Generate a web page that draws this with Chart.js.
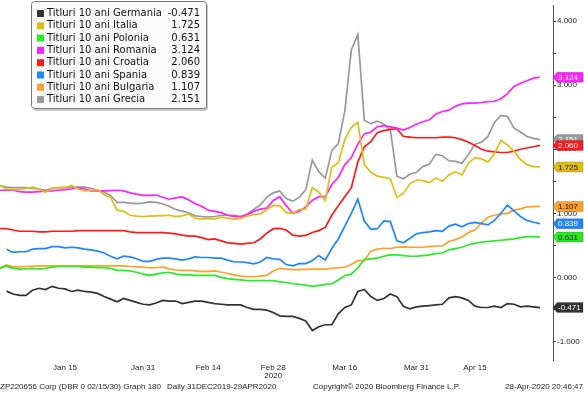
<!DOCTYPE html>
<html>
<head>
<meta charset="utf-8">
<script src="https://cdn.jsdelivr.net/npm/chart.js@4"></script>
<style>
  body { margin: 0; background: #fff; }
  canvas { display: block; }
</style>
</head>
<body>
<canvas id="chart" width="584" height="393"></canvas>
<script>
/* business days 31 Dec 2019 - 29 Apr 2020 (Jan 1, Apr 10, Apr 13 closed) */
var dates = [
  'Dec 31', 'Jan 2', 'Jan 3', 'Jan 6', 'Jan 7', 'Jan 8', 'Jan 9', 'Jan 10', 'Jan 13', 'Jan 14',
  'Jan 15', 'Jan 16', 'Jan 17', 'Jan 20', 'Jan 21', 'Jan 22', 'Jan 23', 'Jan 24', 'Jan 27', 'Jan 28',
  'Jan 29', 'Jan 30', 'Jan 31', 'Feb 3', 'Feb 4', 'Feb 5', 'Feb 6', 'Feb 7', 'Feb 10', 'Feb 11',
  'Feb 12', 'Feb 13', 'Feb 14', 'Feb 17', 'Feb 18', 'Feb 19', 'Feb 20', 'Feb 21', 'Feb 24', 'Feb 25',
  'Feb 26', 'Feb 27', 'Feb 28', 'Mar 2', 'Mar 3', 'Mar 4', 'Mar 5', 'Mar 6', 'Mar 9', 'Mar 10',
  'Mar 11', 'Mar 12', 'Mar 13', 'Mar 16', 'Mar 17', 'Mar 18', 'Mar 19', 'Mar 20', 'Mar 23', 'Mar 24',
  'Mar 25', 'Mar 26', 'Mar 27', 'Mar 30', 'Mar 31', 'Apr 1', 'Apr 2', 'Apr 3', 'Apr 6', 'Apr 7',
  'Apr 8', 'Apr 9', 'Apr 14', 'Apr 15', 'Apr 16', 'Apr 17', 'Apr 20', 'Apr 21', 'Apr 22', 'Apr 23',
  'Apr 24', 'Apr 27', 'Apr 28', 'Apr 29'
];
/* two empty slots after the last day, the gap before the axis */
var padSlots = ['', ''];

var tickDates = ['Jan 15', 'Jan 31', 'Feb 14', 'Feb 28', 'Mar 16', 'Mar 31', 'Apr 15'];
var tickTexts = ['Jan 15', 'Jan 31', 'Feb 14', ['Feb 28', '2020'], 'Mar 16', 'Mar 31', 'Apr 15'];
var yTicks = [-1, -0.5, 0, 0.5, 1, 1.5, 2, 2.5, 3, 3.5, 4];

var germania = [
  null, -0.215, -0.26, -0.28, -0.28, -0.2, -0.17, -0.19, -0.14, -0.17,
  -0.18, -0.22, -0.2, -0.22, -0.23, -0.25, -0.3, -0.34, -0.38, -0.33,
  -0.36, -0.39, -0.42, -0.43, -0.4, -0.36, -0.37, -0.37, -0.41, -0.39,
  -0.37, -0.37, -0.39, -0.41, -0.42, -0.43, -0.43, -0.43, -0.47, -0.5,
  -0.5, -0.51, -0.55, -0.6, -0.61, -0.61, -0.64, -0.68, -0.83, -0.77,
  -0.74, -0.74, -0.57, -0.47, -0.43, -0.22, -0.19, -0.3, -0.36, -0.33,
  -0.26, -0.3, -0.45, -0.49, -0.46, -0.45, -0.44, -0.43, -0.42, -0.32,
  -0.3, -0.32, -0.36, -0.45, -0.47, -0.47, -0.45, -0.47, -0.41, -0.42,
  -0.46, -0.45, -0.46, -0.471
];
var italia = [
  1.435, 1.38, 1.37, 1.37, 1.39, 1.41, 1.38, 1.33, 1.39, 1.40,
  1.40, 1.435, 1.38, 1.35, 1.36, 1.37, 1.29, 1.25, 1.05, 1.03,
  0.97, 0.955, 0.95, 0.955, 0.96, 0.965, 0.97, 0.95, 0.96, 0.99,
  0.92, 0.91, 0.92, 0.91, 0.94, 0.925, 0.91, 0.92, 0.96, 0.98,
  0.99, 1.06, 1.12, 1.12, 1.01, 1.0, 1.06, 1.07, 1.40, 1.33,
  1.2, 1.72, 1.79, 2.15, 2.34, 2.42, 1.76, 1.64, 1.58, 1.56,
  1.54, 1.25, 1.31, 1.46, 1.52, 1.51, 1.48, 1.55, 1.5, 1.6,
  1.65, 1.6, 1.78, 1.87, 1.85, 1.8, 1.93, 2.14, 2.07, 1.97,
  1.84, 1.76, 1.73, 1.725
];
var polonia = [
  0.14, 0.18, 0.14, 0.13, 0.135, 0.14, 0.13, 0.14, 0.16, 0.17,
  0.17, 0.17, 0.17, 0.16, 0.16, 0.15, 0.15, 0.14, 0.11, 0.11,
  0.10, 0.08, 0.05, 0.03, 0.05, 0.07, 0.08, 0.05, 0.04, 0.04,
  0.03, 0.03, 0.03, 0.03, 0.0, -0.02, -0.03, -0.04, -0.05, -0.05,
  -0.05, -0.05, -0.05, -0.07, -0.08, -0.1, -0.11, -0.12, -0.14, -0.13,
  -0.11, -0.1, -0.04, 0.03, 0.05, 0.15, 0.28, 0.29, 0.30, 0.33,
  0.35, 0.35, 0.34, 0.33, 0.33, 0.34, 0.35, 0.37, 0.38, 0.43,
  0.45, 0.47, 0.51, 0.53, 0.55, 0.56, 0.57, 0.58, 0.59, 0.6,
  0.62, 0.635, 0.635, 0.631
];
var romania = [
  1.36, 1.36, 1.36, 1.34, 1.33, 1.33, 1.34, 1.345, 1.35, 1.36,
  1.37, 1.38, 1.40, 1.38, 1.35, 1.35, 1.35, 1.355, 1.36, 1.35,
  1.32, 1.30, 1.28, 1.28, 1.285, 1.25, 1.22, 1.24, 1.255, 1.21,
  1.15, 1.11, 1.05, 1.03, 1.01, 0.97, 0.95, 0.95, 0.98, 1.03,
  1.065, 1.08, 1.2, 1.26, 1.12, 1.0, 1.03, 1.1, 1.2, 1.26,
  1.26, 1.45, 1.56, 1.76, 1.87, 2.08, 2.24, 2.27, 2.35, 2.37,
  2.35, 2.33, 2.3, 2.34, 2.39, 2.43, 2.46, 2.55, 2.59, 2.61,
  2.67, 2.71, 2.72, 2.72, 2.73, 2.745, 2.75, 2.79, 2.87, 2.98,
  3.03, 3.07, 3.11, 3.124
];
var croatia = [
  0.76, 0.76, 0.74, 0.72, 0.72, 0.72, 0.71, 0.71, 0.72, 0.72,
  0.72, 0.72, 0.73, 0.73, 0.73, 0.73, 0.73, 0.73, 0.73, 0.73,
  0.71, 0.70, 0.70, 0.70, 0.70, 0.70, 0.69, 0.68, 0.66, 0.645,
  0.645, 0.62, 0.59, 0.60, 0.57, 0.54, 0.53, 0.52, 0.53, 0.54,
  0.6, 0.69, 0.76, 0.765, 0.74, 0.66, 0.645, 0.655, 0.7, 0.73,
  0.78, 0.97, 1.12, 1.26, 1.4, 1.8, 2.04, 2.12, 2.26, 2.29,
  2.31, 2.32, 2.2, 2.19, 2.18, 2.18, 2.18, 2.18, 2.19, 2.19,
  2.18, 2.15, 2.11, 2.06, 2.0, 1.97, 1.96, 1.95, 1.95, 1.97,
  2.0, 2.02, 2.04, 2.06
];
var spania = [
  null, 0.44, 0.39, 0.40, 0.40, 0.44, 0.45, 0.45, 0.48, 0.48,
  0.46, 0.47, 0.46, 0.44, 0.43, 0.41, 0.38, 0.33, 0.29, 0.33,
  0.32, 0.29, 0.25, 0.25, 0.28, 0.30, 0.30, 0.29, 0.27, 0.29,
  0.32, 0.31, 0.31, 0.30, 0.30, 0.27, 0.24, 0.24, 0.23, 0.21,
  0.24, 0.31, 0.29, 0.28, 0.2, 0.18, 0.215, 0.215, 0.26, 0.34,
  0.27, 0.45, 0.6, 0.8, 1.0, 1.22, 0.88, 0.75, 0.76, 0.88,
  0.87, 0.57, 0.54, 0.61, 0.68, 0.70, 0.71, 0.73, 0.72, 0.80,
  0.83, 0.79, 0.84, 0.86, 0.84, 0.82, 0.89, 1.0, 1.13, 1.04,
  0.95, 0.89, 0.86, 0.839
];
var bulgaria = [
  0.15, 0.195, 0.165, 0.165, 0.17, 0.175, 0.18, 0.18, 0.18, 0.18,
  0.18, 0.18, 0.18, 0.18, 0.18, 0.18, 0.18, 0.18, 0.18, 0.18,
  0.17, 0.165, 0.16, 0.15, 0.15, 0.165, 0.13, 0.115, 0.11, 0.11,
  0.1, 0.09, 0.095, 0.1, 0.08, 0.06, 0.04, 0.02, 0.01, 0.01,
  0.02, 0.03, 0.1, 0.14, 0.13, 0.12, 0.12, 0.125, 0.13, 0.13,
  0.13, 0.14, 0.15, 0.16, 0.2, 0.26, 0.26, 0.41, 0.44, 0.455,
  0.45, 0.47, 0.475, 0.47, 0.47, 0.47, 0.48, 0.49, 0.49, 0.56,
  0.59, 0.63, 0.7, 0.74, 0.85, 0.94, 0.97, 0.99, 1.0, 1.05,
  1.07, 1.1, 1.105, 1.107
];
var grecia = [
  1.435, 1.41, 1.40, 1.40, 1.40, 1.39, 1.38, 1.36, 1.39, 1.40,
  1.40, 1.41, 1.41, 1.41, 1.39, 1.36, 1.33, 1.28, 1.17, 1.17,
  1.16, 1.15, 1.16, 1.18, 1.17, 1.15, 1.11, 1.06, 1.035, 1.01,
  0.96, 0.95, 0.94, 0.95, 0.97, 0.97, 0.97, 0.95, 0.99, 1.06,
  1.13, 1.25, 1.32, 1.35, 1.23, 1.19, 1.25, 1.37, 1.83, 1.65,
  1.55, 1.98, 2.09, 2.6, 3.55, 3.79, 2.45, 2.40, 2.44, 2.39,
  2.3, 1.58, 1.54, 1.61, 1.64, 1.73, 1.77, 1.92, 1.9, 1.82,
  1.81, 1.78, 1.92, 2.08, 2.11, 2.2, 2.42, 2.53, 2.51, 2.33,
  2.27, 2.2, 2.17, 2.151
];

var names = ['Titluri 10 ani Germania', 'Titluri 10 ani Italia', 'Titluri 10 ani Polonia',
  'Titluri 10 ani Romania', 'Titluri 10 ani Croatia', 'Titluri 10 ani Spania',
  'Titluri 10 ani Bulgaria', 'Titluri 10 ani Grecia'];
var series = [germania, italia, polonia, romania, croatia, spania, bulgaria, grecia];
var colors = ['#333333', '#e0be14', '#22ee22', '#ff22ff', '#ff1a1a', '#1f86ff', '#ffa02a', '#999999'];
var tagTextColors = ['#ffffff', '#111111', '#111111', '#ffffff', '#ffffff', '#ffffff', '#111111', '#ffffff'];

var datasets = [];
for (var i = 0; i < series.length; i++) {
  datasets.push({
    label: names[i],
    data: series[i],
    borderColor: colors[i],
    backgroundColor: colors[i],
    borderWidth: 1.7,
    pointRadius: 0,
    tension: 0,
    fill: false
  });
}

function lastValue(arr) {
  return arr[arr.length - 1];
}

/* legend box, top left */
var legendBox = {
  id: 'legendBox',
  afterDraw: function (chart) {
    var c = chart.ctx;
    c.save();
    c.fillStyle = '#c8c8c8';
    c.beginPath();
    c.roundRect(33, 3, 175, 108, 3);
    c.fill();
    c.fillStyle = '#fbfbfb';
    c.strokeStyle = '#777777';
    c.lineWidth = 1;
    c.beginPath();
    c.roundRect(31.5, 1.5, 175, 107, 3);
    c.fill();
    c.stroke();
    c.font = '10px "DejaVu Sans"';
    c.textBaseline = 'middle';
    chart.data.datasets.forEach(function (ds, k) {
      var y = 13.5 + k * 12.3;
      c.fillStyle = ds.borderColor;
      c.fillRect(37, y - 3.5, 7, 7);
      c.fillStyle = '#111111';
      c.textAlign = 'left';
      c.fillText(ds.label, 47, y);
      c.textAlign = 'right';
      c.fillText(lastValue(ds.data).toFixed(3), 200, y);
    });
    c.restore();
  }
};

/* last-value tags on the right axis */
var valueTags = {
  id: 'valueTags',
  afterDraw: function (chart) {
    var c = chart.ctx;
    var ys = chart.scales.y;
    var x0 = ys.left;
    c.save();
    c.font = '8px "Liberation Sans"';
    c.textBaseline = 'middle';
    c.textAlign = 'left';
    for (var k = chart.data.datasets.length - 1; k >= 0; k--) {
      var ds = chart.data.datasets[k];
      var v = lastValue(ds.data);
      var y = ys.getPixelForValue(v);
      c.fillStyle = ds.borderColor;
      c.beginPath();
      c.moveTo(x0, y);
      c.lineTo(x0 + 4, y - 5);
      c.lineTo(x0 + 30, y - 5);
      c.lineTo(x0 + 30, y + 5);
      c.lineTo(x0 + 4, y + 5);
      c.closePath();
      c.fill();
      c.strokeStyle = 'rgba(0,0,0,0.35)';
      c.lineWidth = 0.5;
      c.stroke();
      c.fillStyle = tagTextColors[k];
      c.fillText(v.toFixed(3), x0 + 5, y + 0.5);
    }
    c.restore();
  }
};

/* footer line */
var footer = {
  id: 'footer',
  afterDraw: function (chart) {
    var c = chart.ctx;
    var left = 'ZP220656 Corp (DBR 0 02/15/30) Graph 180';
    c.save();
    c.font = '8px "Liberation Sans"';
    c.fillStyle = '#222222';
    c.textBaseline = 'middle';
    c.textAlign = 'left';
    c.fillText(left, 0, 387);
    c.fillText('Daily 31DEC2019-29APR2020', c.measureText(left).width + 6, 387);
    c.fillText('Copyright\u00a9 2020 Bloomberg Finance L.P.', 313, 387);
    c.textAlign = 'right';
    c.fillText('28-Apr-2020 20:46:47', 583, 387);
    c.restore();
  }
};

var ctx = document.getElementById('chart');
var myChart = new Chart(ctx, {
  type: 'line',
  data: {
    labels: dates.concat(padSlots),
    datasets: datasets
  },
  options: {
    responsive: false,
    animation: false,
    devicePixelRatio: 1,
    layout: { padding: 0 },
    plugins: {
      legend: { display: false },
      tooltip: { enabled: false }
    },
    scales: {
      x: {
        type: 'category',
        offset: false,
        grid: { display: false, drawTicks: false },
        border: { display: false },
        afterFit: function (s) { s.height = 33; },
        afterBuildTicks: function (s) {
          s.ticks = s.ticks.filter(function (t) {
            return tickDates.indexOf(dates[t.value]) >= 0;
          });
        },
        ticks: {
          autoSkip: false,
          maxRotation: 0,
          padding: 3,
          color: '#222222',
          font: { family: 'Liberation Sans', size: 8, lineHeight: 1.1 },
          callback: function (v) {
            var k = tickDates.indexOf(dates[v]);
            return k < 0 ? '' : tickTexts[k];
          }
        }
      },
      y: {
        position: 'right',
        min: -1.29,
        max: 4.24,
        afterFit: function (s) { s.width = 31; },
        afterBuildTicks: function (s) {
          s.ticks = yTicks.map(function (v) { return { value: v }; });
        },
        grid: {
          drawOnChartArea: false,
          drawTicks: true,
          tickLength: 3,
          color: '#444444'
        },
        border: { display: true, color: '#555555', width: 1 },
        ticks: {
          padding: 1,
          color: '#222222',
          font: { family: 'Liberation Sans', size: 8 },
          callback: function (v) {
            return v % 1 === 0 ? v.toFixed(3) : '';
          }
        }
      }
    }
  },
  plugins: [legendBox, valueTags, footer]
});
</script>
</body>
</html>
